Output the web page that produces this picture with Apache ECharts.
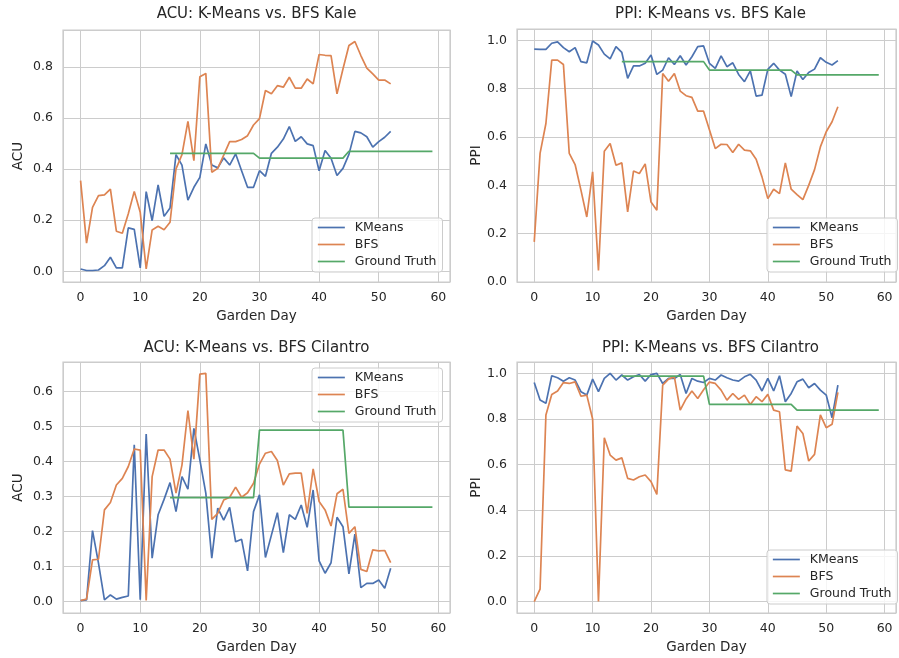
<!DOCTYPE html>
<html>
<head>
<meta charset="utf-8">
<script src="https://cdn.jsdelivr.net/npm/echarts@6/dist/echarts.min.js"></script>
<style>
html,body{margin:0;padding:0;background:#ffffff;}
#chart{width:899px;height:658px;}
</style>
</head>
<body>
<div id="chart"></div>
<script>
// ---------- data ----------
const days = [0,1,2,3,4,5,6,7,8,9,10,11,12,13,14,15,16,17,18,19,20,21,22,23,24,25,26,27,28,29,30,31,32,33,34,35,36,37,38,39,40,41,42,43,44,45,46,47,48,49,50,51,52];
const gtDays = [15,16,17,18,19,20,21,22,23,24,25,26,27,28,29,30,31,32,33,34,35,36,37,38,39,40,41,42,43,44,45,46,47,48,49,50,51,52,53,54,55,56,57,58,59];
const seriesNames = ['KMeans', 'BFS', 'Ground Truth'];
const xTicks = [0,10,20,30,40,50,60];

const acuKaleKMeans = [0.009,0.003,0.003,0.005,0.022,0.055,0.013,0.013,0.170,0.164,
  0.013,0.312,0.198,0.338,0.215,0.248,0.457,0.416,0.279,0.329,
  0.368,0.499,0.416,0.405,0.444,0.416,0.460,0.394,0.329,0.329,
  0.394,0.372,0.462,0.486,0.518,0.567,0.509,0.527,0.499,0.492,
  0.394,0.473,0.443,0.375,0.403,0.458,0.548,0.542,0.527,0.486,
  0.508,0.525,0.548];
const acuKaleBFS = [0.355,0.110,0.250,0.296,0.299,0.322,0.157,0.149,0.225,0.313,
  0.231,0.009,0.162,0.176,0.163,0.192,0.401,0.457,0.587,0.433,
  0.762,0.775,0.388,0.403,0.455,0.508,0.508,0.516,0.531,0.573,
  0.598,0.708,0.695,0.727,0.721,0.760,0.717,0.717,0.753,0.734,
  0.849,0.846,0.845,0.695,0.792,0.884,0.900,0.845,0.796,0.773,
  0.749,0.749,0.734];
const acuKaleGT = [0.462,0.462,0.462,0.462,0.462,0.462,0.462,0.462,0.462,0.462,0.462,0.462,0.462,0.462,0.462,
  0.443,0.443,0.443,0.443,0.443,0.443,0.443,0.443,0.443,0.443,0.443,0.443,0.443,0.443,0.443,
  0.470,0.470,0.470,0.470,0.470,0.470,0.470,0.470,0.470,0.470,0.470,0.470,0.470,0.470,0.470];

const ppiKaleKMeans = [0.964,0.963,0.963,0.988,0.994,0.970,0.953,0.970,0.912,0.907,
  0.997,0.981,0.943,0.923,0.974,0.950,0.843,0.894,0.894,0.905,
  0.939,0.859,0.877,0.928,0.900,0.936,0.898,0.932,0.974,0.977,
  0.905,0.884,0.936,0.891,0.907,0.859,0.829,0.874,0.769,0.773,
  0.880,0.905,0.877,0.860,0.767,0.873,0.838,0.867,0.881,0.928,
  0.909,0.898,0.916];
const ppiKaleBFS = [0.166,0.532,0.656,0.918,0.918,0.900,0.532,0.486,0.380,0.269,
  0.456,0.048,0.541,0.573,0.483,0.493,0.290,0.459,0.449,0.489,
  0.331,0.297,0.863,0.831,0.863,0.790,0.771,0.764,0.707,0.707,
  0.630,0.552,0.570,0.569,0.536,0.570,0.546,0.543,0.508,0.435,
  0.345,0.384,0.366,0.493,0.384,0.362,0.341,0.400,0.465,0.559,
  0.622,0.663,0.725];
const ppiKaleGT = [0.912,0.912,0.912,0.912,0.912,0.912,0.912,0.912,0.912,0.912,0.912,0.912,0.912,0.912,0.912,
  0.877,0.877,0.877,0.877,0.877,0.877,0.877,0.877,0.877,0.877,0.877,0.877,0.877,0.877,0.877,
  0.857,0.857,0.857,0.857,0.857,0.857,0.857,0.857,0.857,0.857,0.857,0.857,0.857,0.857,0.857];

const acuCilKMeans = [0.003,0.005,0.203,0.110,0.005,0.019,0.007,0.012,0.016,0.448,
  0.005,0.479,0.124,0.248,0.292,0.340,0.257,0.357,0.321,0.495,
  0.405,0.310,0.124,0.267,0.233,0.269,0.171,0.178,0.088,0.257,
  0.305,0.126,0.190,0.254,0.140,0.248,0.235,0.276,0.212,0.319,
  0.116,0.081,0.111,0.241,0.214,0.079,0.193,0.040,0.052,0.052,
  0.062,0.038,0.095];
const acuCilBFS = [0.003,0.007,0.119,0.121,0.262,0.283,0.333,0.352,0.386,0.436,
  0.433,0.003,0.357,0.433,0.433,0.407,0.310,0.390,0.546,0.407,
  0.650,0.652,0.235,0.252,0.290,0.298,0.327,0.298,0.311,0.338,
  0.393,0.424,0.429,0.403,0.333,0.365,0.367,0.367,0.252,0.379,
  0.286,0.262,0.216,0.308,0.321,0.195,0.214,0.092,0.086,0.148,
  0.145,0.146,0.111];
const acuCilGT = [0.297,0.297,0.297,0.297,0.297,0.297,0.297,0.297,0.297,0.297,0.297,0.297,0.297,0.297,0.297,
  0.490,0.490,0.490,0.490,0.490,0.490,0.490,0.490,0.490,0.490,0.490,0.490,0.490,0.490,0.490,
  0.270,0.270,0.270,0.270,0.270,0.270,0.270,0.270,0.270,0.270,0.270,0.270,0.270,0.270,0.270];

const ppiCilKMeans = [0.960,0.883,0.869,0.990,0.981,0.966,0.981,0.971,0.920,0.905,
  0.975,0.920,0.978,1.000,0.971,0.993,0.971,0.985,0.995,0.966,
  0.995,1.000,0.956,0.978,0.978,0.995,0.912,0.978,0.966,0.960,
  0.978,0.971,0.993,0.981,0.971,0.966,0.985,0.996,0.971,0.923,
  0.978,0.923,0.990,0.876,0.912,0.963,0.975,0.937,0.956,0.927,
  0.905,0.806,0.949];
const ppiCilBFS = [0.000,0.055,0.818,0.908,0.923,0.960,0.956,0.963,0.900,0.905,
  0.800,0.000,0.718,0.642,0.620,0.630,0.540,0.533,0.547,0.555,
  0.526,0.470,0.949,0.975,0.985,0.839,0.888,0.923,0.890,0.928,
  0.962,0.956,0.927,0.883,0.912,0.886,0.905,0.864,0.898,0.876,
  0.908,0.839,0.832,0.577,0.572,0.769,0.737,0.616,0.645,0.818,
  0.762,0.777,0.917];
const ppiCilGT = [0.988,0.988,0.988,0.988,0.988,0.988,0.988,0.988,0.988,0.988,0.988,0.988,0.988,0.988,0.988,
  0.864,0.864,0.864,0.864,0.864,0.864,0.864,0.864,0.864,0.864,0.864,0.864,0.864,0.864,0.864,
  0.839,0.839,0.839,0.839,0.839,0.839,0.839,0.839,0.839,0.839,0.839,0.839,0.839,0.839,0.839];

// ---------- layout / style ----------
const FONT = 'DejaVu Sans';
const TXT = '#262626';
const GRIDC = '#cccccc';
const COLORS = ['#4C72B0', '#DD8452', '#55A868'];

const panels = [
  {title: 'ACU: K-Means vs. BFS Kale', ylabel: 'ACU', left: 63, top: 30, height: 252, ymin: -0.042, ymax: 0.945,
   tx: 256.5, ty: 14, lx: 312, ly: 218, nameGap: 38, data: [acuKaleKMeans, acuKaleBFS, acuKaleGT]},
  {title: 'PPI: K-Means vs. BFS Kale', ylabel: 'PPI', left: 517, top: 29, height: 253, ymin: 0, ymax: 1.047,
   tx: 710.5, ty: 14, lx: 767, ly: 218, nameGap: 34, data: [ppiKaleKMeans, ppiKaleBFS, ppiKaleGT]},
  {title: 'ACU: K-Means vs. BFS Cilantro', ylabel: 'ACU', left: 63, top: 362, height: 251, ymin: -0.0326, ymax: 0.6846,
   tx: 256.5, ty: 348, lx: 312, ly: 368, nameGap: 38, data: [acuCilKMeans, acuCilBFS, acuCilGT]},
  {title: 'PPI: K-Means vs. BFS Cilantro', ylabel: 'PPI', left: 517, top: 362, height: 251, ymin: -0.05, ymax: 1.05,
   tx: 710.5, ty: 348, lx: 767, ly: 550, nameGap: 34, data: [ppiCilKMeans, ppiCilBFS, ppiCilGT]}
];

function isMultiple(v, step) {
  return Math.abs(v / step - Math.round(v / step)) < 1e-6;
}

const option = {
  animation: false,
  backgroundColor: '#ffffff',
  textStyle: {fontFamily: FONT, color: TXT},
  title: [], grid: [], xAxis: [], yAxis: [], legend: [], series: []
};

panels.forEach((p, i) => {
  option.title.push({
    text: p.title, left: p.tx, top: p.ty, textAlign: 'center', textVerticalAlign: 'middle', padding: 0,
    textStyle: {fontFamily: FONT, fontSize: 15, fontWeight: 'normal', color: TXT}
  });
  option.grid.push({
    left: p.left, top: p.top, width: 387, height: p.height,
    show: true, borderColor: GRIDC, borderWidth: 1.25, backgroundColor: '#ffffff', containLabel: false
  });
  option.xAxis.push({
    type: 'value', gridIndex: i, min: -2.95, max: 61.95,
    name: 'Garden Day', nameLocation: 'middle', nameGap: 27,
    nameTextStyle: {fontFamily: FONT, fontSize: 13.5, color: TXT},
    axisLine: {show: false}, axisTick: {show: false},
    axisLabel: {
      margin: 9, fontFamily: FONT, fontSize: 12.5, color: TXT,
      formatter: v => (isMultiple(v, 10) && xTicks.indexOf(Math.round(v)) >= 0) ? String(Math.round(v)) : ''
    },
    splitLine: {show: true, lineStyle: {color: GRIDC, width: 1}}
  });
  option.yAxis.push({
    type: 'value', gridIndex: i, min: p.ymin, max: p.ymax,
    name: p.ylabel, nameLocation: 'middle', nameGap: p.nameGap,
    nameTextStyle: {fontFamily: FONT, fontSize: 13.5, color: TXT},
    axisLine: {show: false}, axisTick: {show: false},
    axisLabel: {
      margin: 10, fontFamily: FONT, fontSize: 12.5, color: TXT,
      formatter: v => isMultiple(v, 0.1) ? v.toFixed(1) : ''
    },
    splitLine: {show: true, lineStyle: {color: GRIDC, width: 1}}
  });
  option.legend.push({
    orient: 'vertical', left: p.lx, top: p.ly,
    data: seriesNames,
    itemWidth: 27, itemHeight: 14, itemGap: 4,
    padding: [3, 6, 4, 5],
    borderColor: GRIDC, borderWidth: 1, borderRadius: 3,
    backgroundColor: 'rgba(255,255,255,0.8)',
    itemStyle: {opacity: 0},
    lineStyle: {width: 1.7},
    textStyle: {fontFamily: FONT, fontSize: 12.5, color: TXT, padding: [0, 0, 0, 5]},
    selectedMode: false
  });
  const xs = [days, days, gtDays];
  p.data.forEach((vals, k) => {
    option.series.push({
      name: seriesNames[k], type: 'line', xAxisIndex: i, yAxisIndex: i,
      data: vals.map((v, j) => [xs[k][j], v]),
      showSymbol: false, symbol: 'none',
      lineStyle: {color: COLORS[k], width: 1.7},
      itemStyle: {color: COLORS[k]},
      emphasis: {disabled: true},
      z: 2 + k
    });
  });
});

const chart = echarts.init(document.getElementById('chart'), null, {renderer: 'canvas'});
chart.setOption(option);
</script>
</body>
</html>
